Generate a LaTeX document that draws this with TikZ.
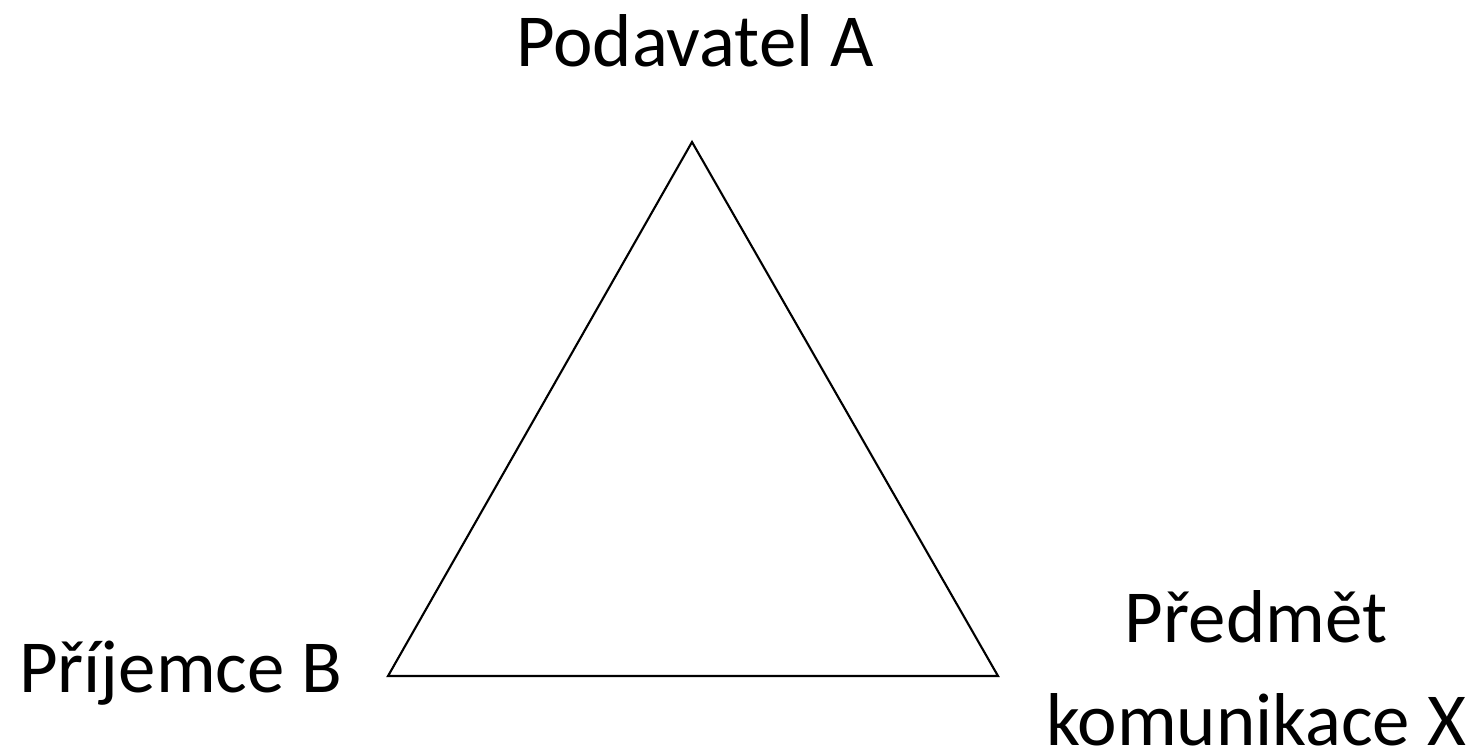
\documentclass[tikz,border=0pt]{standalone}
\usepackage{fontspec}
\setmainfont{Carlito}
\begin{document}
\begin{tikzpicture}[
        x=1cm, y=1cm,
        every node/.style={inner sep=0pt, outer sep=0pt, font=\fontsize{21.3}{29.3}\selectfont},
        side/.style={draw=black, line width=0.6pt, line join=miter}
    ]
    \useasboundingbox (0,0) rectangle (14.76,7.52);
    \coordinate (A) at (6.92,6.10);
    \coordinate (B) at (3.88,0.76);
    \coordinate (X) at (9.98,0.76);
    \draw[side] (A) -- (B) -- (X) -- cycle;
    \node[anchor=base] (podavatel) at (6.95,6.86) {Podavatel A};
    \node[anchor=base west] (prijemce) at (0.19,0.60) {Příjemce B};
    \node[anchor=base, align=center] (predmet) at (12.56,0.07) {Předmět\\komunikace X};
\end{tikzpicture}
\end{document}
